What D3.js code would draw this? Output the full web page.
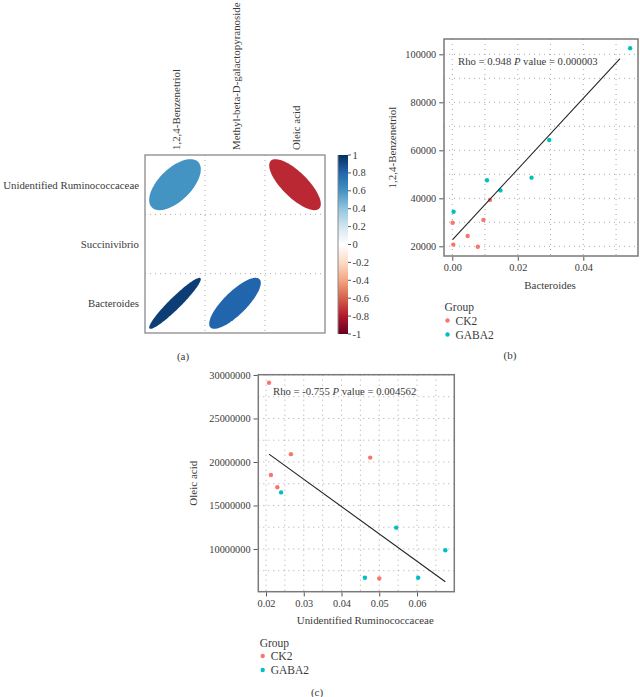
<!DOCTYPE html>
<html>
<head>
<meta charset="utf-8">
<script src="https://cdn.jsdelivr.net/npm/d3@7"></script>
<style>
  html, body { margin: 0; padding: 0; background: #fff; }
  svg { display: block; }
  text { font-family: "Liberation Serif", "DejaVu Serif", serif; fill: #3a3a3a; }
</style>
</head>
<body>
<svg id="chart" width="640" height="697"></svg>
<script>
// ---------- DATA ----------
const rowNames = ["Unidentified Ruminococcaceae", "Succinivibrio", "Bacteroides"];
const colNames = ["1,2,4-Benzenetriol", "Methyl-beta-D-galactopyranoside", "Oleic acid"];
const corrRow1 = [0.6, null, -0.755];
const corrRow2 = [null, null, null];
const corrRow3 = [0.948, 0.8, null];
const colorbarTicks = [1, 0.8, 0.6, 0.4, 0.2, 0, -0.2, -0.4, -0.6, -0.8, -1];
const rdbuColors = ["#67001F", "#B2182B", "#D6604D", "#F4A582", "#FDDBC7", "#FFFFFF",
                    "#D1E5F0", "#92C5DE", "#4393C3", "#2166AC", "#053061"];

const groups = ["CK2", "GABA2"];
const groupColors = ["#F8766D", "#00BFC4"];

// panel b: Bacteroides vs 1,2,4-Benzenetriol
const bCK2x = [0.0115, 0.0001, 0.0095, 0.0047, 0.0003, 0.0078];
const bCK2y = [39300, 29800, 31000, 24300, 20700, 19800];
const bGABAx = [0.0543, 0.0106, 0.0147, 0.0242, 0.0296, 0.0004];
const bGABAy = [102500, 47500, 43300, 48600, 64300, 34400];
const bFitX = [0.0001, 0.0512];
const bFitY = [22800, 98200];
const bXTicks = [0, 0.02, 0.04];
const bYTicks = [20000, 40000, 60000, 80000, 100000];
const bLabel = { rho: "0.948", p: "0.000003" };

// panel c: Unidentified Ruminococcaceae vs Oleic acid
const cCK2x = [0.0208, 0.0266, 0.0476, 0.0213, 0.0230, 0.0500];
const cCK2y = [29.1e6, 20.9e6, 20.5e6, 18.5e6, 17.1e6, 6.6e6];
const cGABAx = [0.0240, 0.0545, 0.0675, 0.0462, 0.0603];
const cGABAy = [16.5e6, 12.45e6, 9.85e6, 6.7e6, 6.7e6];
const cFitX = [0.0208, 0.0675];
const cFitY = [20.9e6, 6.24e6];
const cXTicks = [0.02, 0.03, 0.04, 0.05, 0.06];
const cYTicks = [10e6, 15e6, 20e6, 25e6, 30e6];
const cLabel = { rho: "-0.755", p: "0.004562" };

// ---------- DRAW ----------
const svg = d3.select("#chart");
const corr = [corrRow1, corrRow2, corrRow3];
const colorScale = d3.scaleLinear()
  .domain(d3.range(11).map(i => -1 + i * 0.2))
  .range(rdbuColors)
  .interpolate(d3.interpolateRgb);

// ===== Panel (a) =====
const aX = d3.scaleBand().domain(colNames).range([145, 325]);
const aY = d3.scaleBand().domain(rowNames).range([155, 333]);
const gA = svg.append("g");

colNames.slice(1).forEach(c => {
  gA.append("line").attr("x1", aX(c)).attr("x2", aX(c)).attr("y1", 155).attr("y2", 333)
    .attr("stroke", "#aaa").attr("stroke-dasharray", "1,4").attr("stroke-width", 1);
});
rowNames.slice(1).forEach(r => {
  gA.append("line").attr("x1", 145).attr("x2", 325).attr("y1", aY(r)).attr("y2", aY(r))
    .attr("stroke", "#aaa").attr("stroke-dasharray", "1,4").attr("stroke-width", 1);
});

function ellipsePath(rho, cx, cy, w, h) {
  const d = Math.acos(rho);
  const pts = d3.range(0, 100).map(i => {
    const k = i / 99 * 2 * Math.PI;
    const x = Math.cos(k + d / 2) / 2;
    const y = Math.cos(k - d / 2) / 2;
    return [cx + x * w * 0.86, cy - y * h * 0.86];
  });
  return d3.line()(pts) + "Z";
}

rowNames.forEach((r, i) => {
  colNames.forEach((c, j) => {
    const v = corr[i][j];
    if (v === null) return;
    const cx = aX(c) + aX.bandwidth() / 2;
    const cy = aY(r) + aY.bandwidth() / 2;
    gA.append("path").attr("d", ellipsePath(v, cx, cy, aX.bandwidth(), aY.bandwidth()))
      .attr("fill", colorScale(v));
  });
});

gA.append("rect").attr("x", 145).attr("y", 155).attr("width", 180).attr("height", 178)
  .attr("fill", "none").attr("stroke", "#8a8a8a").attr("stroke-width", 1.3);

rowNames.forEach(r => {
  gA.append("text").attr("x", 139).attr("y", aY(r) + aY.bandwidth() / 2)
    .attr("text-anchor", "end").attr("dominant-baseline", "central")
    .style("font-size", "10.8px").text(r);
});
colNames.forEach(c => {
  const x = aX(c) + aX.bandwidth() / 2;
  gA.append("text").attr("transform", `translate(${x + 1},150) rotate(-90)`)
    .attr("text-anchor", "start").attr("dominant-baseline", "central")
    .style("font-size", "10.9px").text(c);
});

// colorbar
const cbScale = d3.scaleLinear().domain([-1, 1]).range([334, 155]);
const defs = svg.append("defs");
const grad = defs.append("linearGradient").attr("id", "cbgrad")
  .attr("x1", 0).attr("x2", 0).attr("y1", 1).attr("y2", 0);
rdbuColors.forEach((col, i) => {
  grad.append("stop").attr("offset", (i / 10 * 100) + "%").attr("stop-color", col);
});
gA.append("rect").attr("x", 338).attr("y", 155).attr("width", 10).attr("height", 179)
  .attr("fill", "url(#cbgrad)");
gA.append("line").attr("x1", 338).attr("x2", 338).attr("y1", 155).attr("y2", 334)
  .attr("stroke", "#888").attr("stroke-width", 1);
colorbarTicks.forEach(t => {
  gA.append("line").attr("x1", 348).attr("x2", 351).attr("y1", cbScale(t)).attr("y2", cbScale(t))
    .attr("stroke", "#555").attr("stroke-width", 1);
  gA.append("text").attr("x", 352.5).attr("y", cbScale(t)).attr("dominant-baseline", "central")
    .style("font-size", "10.5px").text(t);
});
svg.append("text").attr("x", 183).attr("y", 356).attr("text-anchor", "middle")
  .attr("dominant-baseline", "central").style("font-size", "11px").text("(a)");

// ===== Scatter panels =====
function scatterPanel(opts) {
  const g = svg.append("g");
  const x = d3.scaleLinear().domain(opts.xDomain).range([opts.left, opts.right]);
  const y = d3.scaleLinear().domain(opts.yDomain).range([opts.bottom, opts.top]);
  const dot = "1,4";
  opts.xGrid.forEach(v => {
    g.append("line").attr("x1", x(v)).attr("x2", x(v)).attr("y1", opts.top).attr("y2", opts.bottom)
      .attr("stroke", "#a8a8a8").attr("stroke-dasharray", dot).attr("stroke-width", 1);
  });
  opts.yGrid.forEach(v => {
    g.append("line").attr("y1", y(v)).attr("y2", y(v)).attr("x1", opts.left).attr("x2", opts.right)
      .attr("stroke", "#a8a8a8").attr("stroke-dasharray", dot).attr("stroke-width", 1);
  });
  opts.series.forEach((s, si) => {
    s.x.forEach((xv, i) => {
      g.append("circle").attr("cx", x(xv)).attr("cy", y(s.y[i])).attr("r", 2.2)
        .attr("fill", groupColors[si]);
    });
  });
  g.append("line").attr("x1", x(opts.fitX[0])).attr("y1", y(opts.fitY[0]))
    .attr("x2", x(opts.fitX[1])).attr("y2", y(opts.fitY[1]))
    .attr("stroke", "#222").attr("stroke-width", 1.1);
  g.append("rect").attr("x", opts.left).attr("y", opts.top)
    .attr("width", opts.right - opts.left).attr("height", opts.bottom - opts.top)
    .attr("fill", "none").attr("stroke", "#7a7a7a").attr("stroke-width", 1.5);
  const xAxis = d3.axisBottom(x).tickValues(opts.xTicks).tickSize(4).tickPadding(3)
    .tickFormat(opts.xFormat);
  const gx = g.append("g").attr("transform", `translate(0,${opts.bottom + 0.75})`).call(xAxis);
  gx.select(".domain").remove();
  gx.selectAll(".tick line").attr("stroke", "#555");
  gx.selectAll(".tick text").style("font-size", "10.3px").style("font-family", "Liberation Serif").attr("fill", "#3a3a3a");
  const yAxis = d3.axisLeft(y).tickValues(opts.yTicks).tickSize(4).tickPadding(3)
    .tickFormat(d3.format("d"));
  const gy = g.append("g").attr("transform", `translate(${opts.left - 0.75},0)`).call(yAxis);
  gy.select(".domain").remove();
  gy.selectAll(".tick line").attr("stroke", "#555");
  gy.selectAll(".tick text").style("font-size", "10.3px").style("font-family", "Liberation Serif").attr("fill", "#3a3a3a");
  g.append("text").attr("x", (opts.left + opts.right) / 2 + opts.xTitleDx).attr("y", opts.xTitleY)
    .attr("text-anchor", "middle").attr("dominant-baseline", "central")
    .style("font-size", "10.9px").text(opts.xTitle);
  g.append("text").attr("transform", `translate(${opts.yTitleX},${(opts.top + opts.bottom) / 2}) rotate(-90)`)
    .attr("text-anchor", "middle").attr("dominant-baseline", "central")
    .style("font-size", "11px").text(opts.yTitle);
  const ann = g.append("text").attr("x", opts.annX).attr("y", opts.annY)
    .attr("dominant-baseline", "central").style("font-size", "10.7px");
  ann.append("tspan").text(`Rho = ${opts.label.rho} `);
  ann.append("tspan").style("font-style", "italic").text("P");
  ann.append("tspan").text(` value = ${opts.label.p}`);
  g.append("text").attr("x", opts.legX - 3).attr("y", opts.legY)
    .attr("dominant-baseline", "central").style("font-size", "11.5px").text("Group");
  groups.forEach((grp, i) => {
    const yy = opts.legY + 13.5 + i * 14;
    g.append("circle").attr("cx", opts.legX).attr("cy", yy).attr("r", 2.2).attr("fill", groupColors[i]);
    g.append("text").attr("x", opts.legX + 8).attr("y", yy).attr("dominant-baseline", "central")
      .style("font-size", "11.5px").text(grp);
  });
  svg.append("text").attr("x", opts.capX).attr("y", opts.capY).attr("text-anchor", "middle")
    .attr("dominant-baseline", "central").style("font-size", "11px").text(opts.caption);
}

scatterPanel({
  left: 444, right: 638, top: 39, bottom: 256,
  xDomain: [-0.00253, 0.0567], yDomain: [15958, 106375],
  xGrid: d3.range(0, 0.0501, 0.01), yGrid: d3.range(20000, 100001, 10000),
  xTicks: bXTicks, yTicks: bYTicks, xFormat: d3.format(".2f"),
  series: [{ x: bCK2x, y: bCK2y }, { x: bGABAx, y: bGABAy }],
  fitX: bFitX, fitY: bFitY,
  xTitle: "Bacteroides", xTitleY: 285, xTitleDx: 9,
  yTitle: "1,2,4-Benzenetriol", yTitleX: 392,
  label: bLabel, annX: 458, annY: 61,
  legX: 447.5, legY: 307,
  caption: "(b)", capX: 510, capY: 355
});

scatterPanel({
  left: 258.3, right: 454.3, top: 374.7, bottom: 591.7,
  xDomain: [0.01796, 0.06988], yDomain: [5.09e6, 30.03e6],
  xGrid: d3.range(0.02, 0.0651, 0.005), yGrid: d3.range(7.5e6, 30.1e6, 2.5e6),
  xTicks: cXTicks, yTicks: cYTicks, xFormat: d3.format(".2f"),
  series: [{ x: cCK2x, y: cCK2y }, { x: cGABAx, y: cGABAy }],
  fitX: cFitX, fitY: cFitY,
  xTitle: "Unidentified Ruminococcaceae", xTitleY: 620, xTitleDx: 9,
  yTitle: "Oleic acid", yTitleX: 193,
  label: cLabel, annX: 273, annY: 391,
  legX: 262.7, legY: 642.5,
  caption: "(c)", capX: 317, capY: 692
});
</script>
</body>
</html>
